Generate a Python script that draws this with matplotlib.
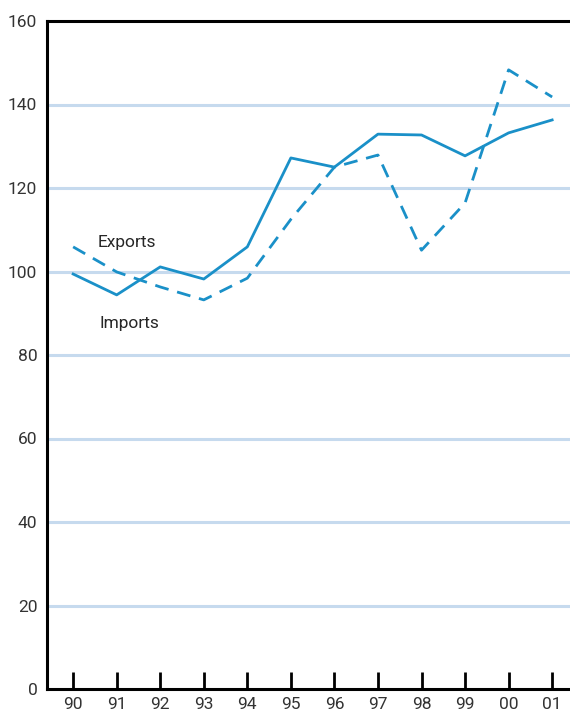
import matplotlib
matplotlib.use("Agg")
from matplotlib import pyplot as plt

years = ['90', '91', '92', '93', '94', '95', '96', '97', '98', '99', '00', '01']
solid_vals = [99.4, 94.4, 101.1, 98.2, 105.9, 127.2, 125.0, 132.9, 132.7, 127.7, 133.2, 136.3]
dashed_vals = [105.9, 99.9, 96.3, 93.2, 98.4, 112.5, 125.0, 127.9, 105.1, 116.4, 148.3, 141.8]
y_ticks = [0, 20, 40, 60, 80, 100, 120, 140, 160]

plt.rcParams['font.family'] = ['Roboto', 'DejaVu Sans']

fig = plt.figure(figsize=(5.7, 7.19), dpi=100)
ax = fig.add_axes([47 / 570, 30 / 719, 523 / 570, 668 / 719])

x = list(range(len(years)))
line_col = '#1a90c8'

# grid lines
for v in y_ticks[1:-1]:
    ax.axhline(v, color='#c6daee', lw=2.2, zorder=1)

ax.plot(x, solid_vals, color=line_col, lw=2.0, zorder=3)
ax.plot(x, dashed_vals, color=line_col, lw=2.0, dashes=(5, 3.2), zorder=3)

ax.text(0.57, 107, 'Exports', fontsize=12.5, color='#262626', ha='left', va='center')
ax.text(0.61, 87.5, 'Imports', fontsize=12.5, color='#262626', ha='left', va='center')

ax.set_xlim(-0.6, 11.41)
ax.set_ylim(0, 160)
ax.set_yticks(y_ticks)
ax.set_xticks(x)
ax.set_xticklabels(years)

ax.spines['right'].set_visible(False)
for s in ['left', 'top', 'bottom']:
    ax.spines[s].set_linewidth(2.2)
    ax.spines[s].set_color('black')

ax.tick_params(axis='x', direction='in', length=12, width=2.0, color='black',
               labelsize=12.5, labelcolor='#333333', pad=6)
ax.tick_params(axis='y', length=0, labelsize=12.5, labelcolor='#333333', pad=7)

fig.savefig('out.png', dpi=100)
